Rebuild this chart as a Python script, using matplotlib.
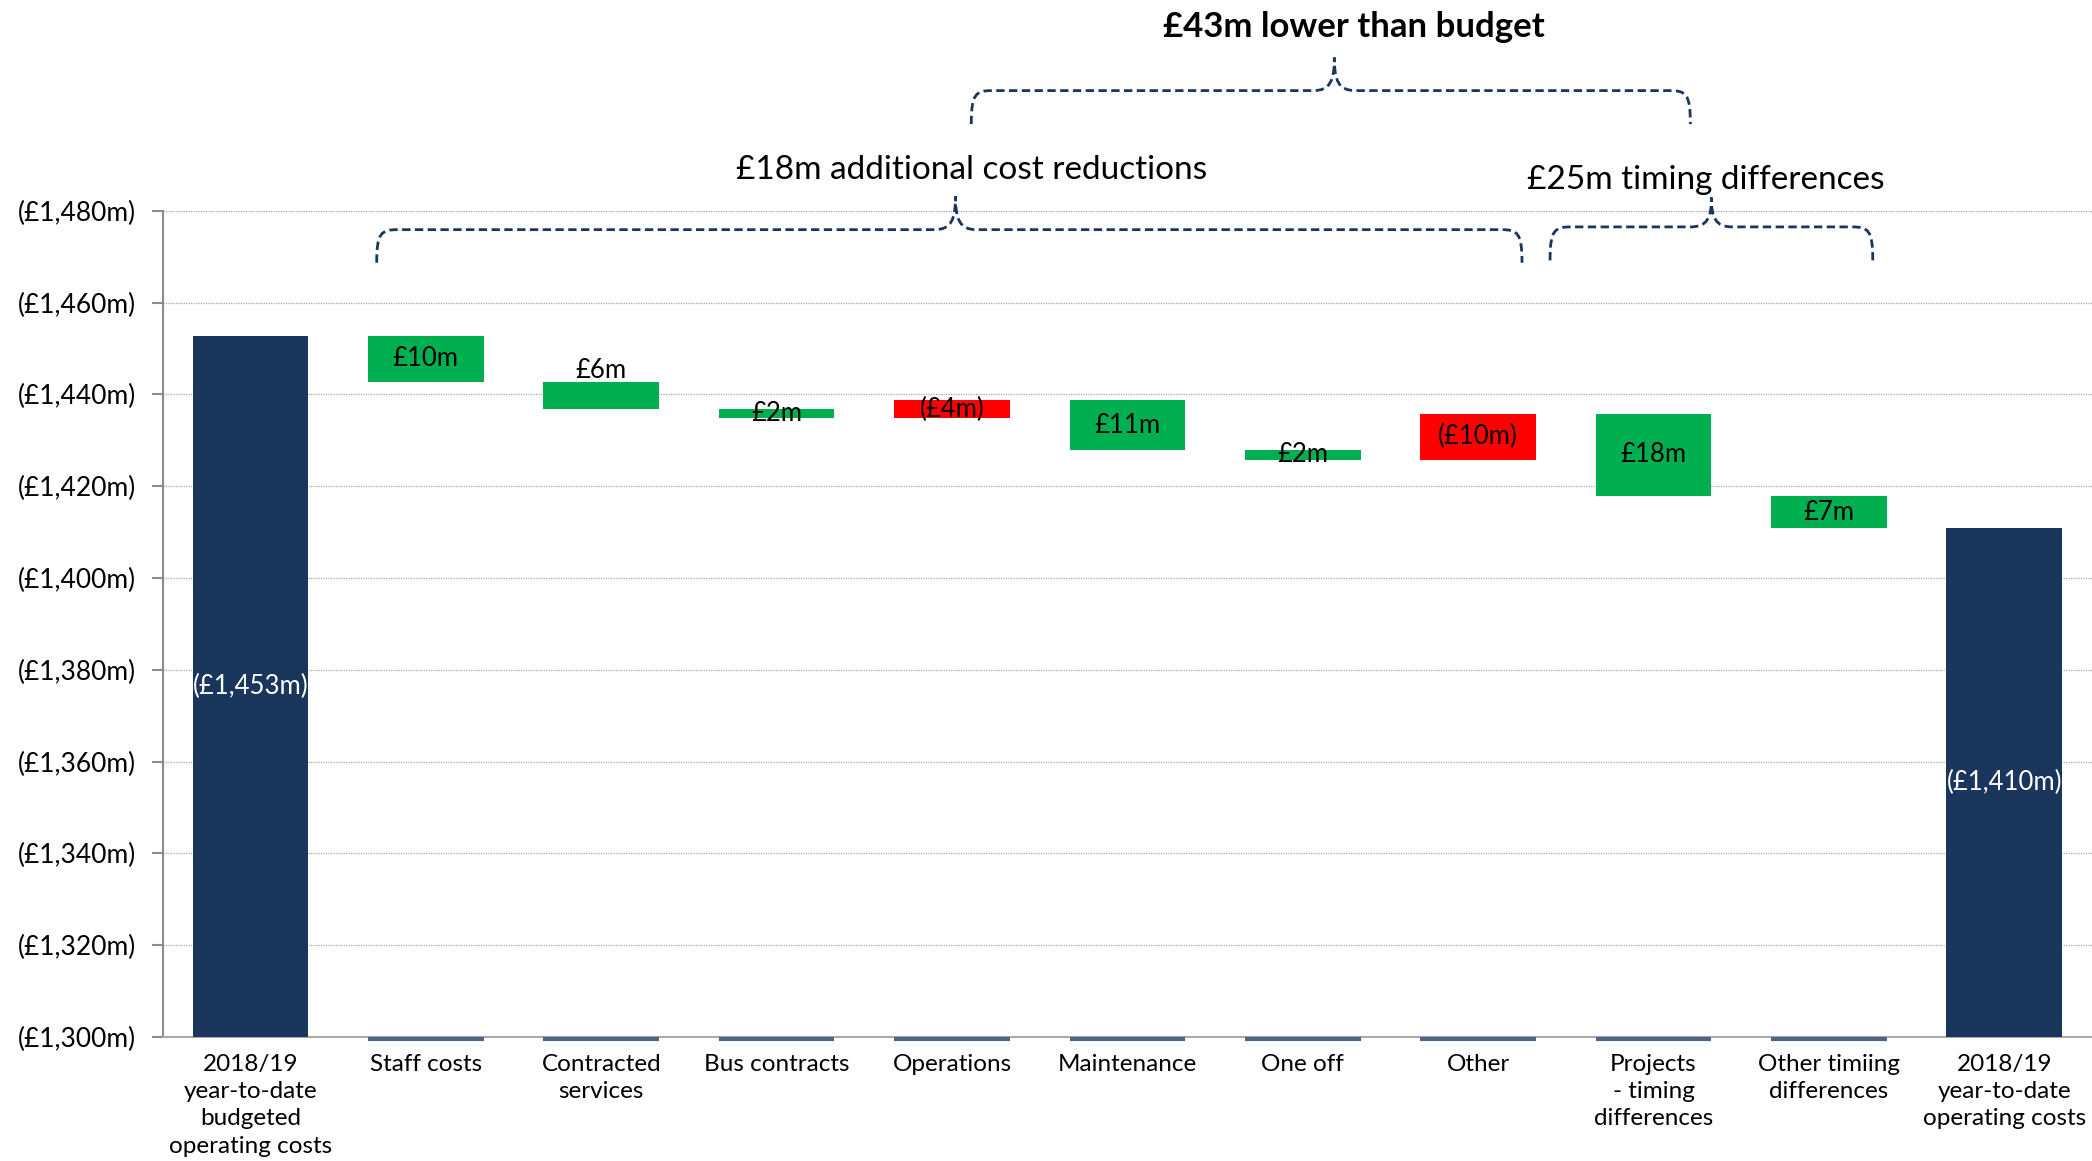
import matplotlib
matplotlib.use("Agg")
import matplotlib.pyplot as plt
from matplotlib.path import Path
from matplotlib.patches import PathPatch

# ---------------- data ----------------
categories = ["2018/19\nyear-to-date\nbudgeted\noperating costs", "Staff costs",
              "Contracted\nservices", "Bus contracts", "Operations", "Maintenance",
              "One off", "Other", "Projects\n- timing\ndifferences",
              "Other timiing\ndifferences", "2018/19\nyear-to-date\noperating costs"]
start_total = 1452.8
changes = [10, 6, 2, -4, 11, 2, -10, 18, 7]          # positive = cost reduction
change_labels = ["£10m", "£6m", "£2m", "(£4m)", "£11m", "£2m", "(£10m)", "£18m", "£7m"]
total_labels = ["(£1,453m)", "(£1,410m)"]
y_ticks = [1300, 1320, 1340, 1360, 1380, 1400, 1420, 1440, 1460, 1480]
y_tick_labels = ["(£1,300m)", "(£1,320m)", "(£1,340m)", "(£1,360m)", "(£1,380m)",
                 "(£1,400m)", "(£1,420m)", "(£1,440m)", "(£1,460m)", "(£1,480m)"]
brace_texts = ["£43m lower than budget", "£18m additional cost reductions",
               "£25m timing differences"]

# ---------------- style ----------------
NAVY = "#1A365D"
GREEN = "#00B050"
RED = "#FF0000"
plt.rcParams['font.family'] = ['Lato', 'DejaVu Sans']

fig = plt.figure(figsize=(20.92, 11.61), dpi=100)
ax = fig.add_axes([0.0778, 0.1069, 0.9222, 0.7115])

W = 0.66
n = len(categories)
LBL = 18.5
ax.bar(0, start_total - 1300, bottom=1300, width=W, color=NAVY, zorder=3)
level = start_total
label_offsets = {1: 18}  # points, for the Contracted services label
for i, c in enumerate(changes):
    x = i + 1
    top = level
    bot = level - c
    lo, hi = min(top, bot), max(top, bot)
    ax.bar(x, hi - lo, bottom=lo, width=W, color=GREEN if c > 0 else RED, zorder=3)
    ax.hlines(1299.6, x - W / 2, x + W / 2, color="#4F6382", lw=3, zorder=4, clip_on=False)
    ax.annotate(change_labels[i], (x, (lo + hi) / 2), xytext=(0, label_offsets.get(i, 0)),
                textcoords="offset points", ha="center", va="center", fontsize=LBL,
                color="black", zorder=5)
    level = bot
end_total = level
ax.bar(n - 1, end_total - 1300, bottom=1300, width=W, color=NAVY, zorder=3)
ax.text(0, (start_total + 1300) / 2, total_labels[0], ha="center", va="center",
        color="white", fontsize=LBL, zorder=5)
ax.text(n - 1, (end_total + 1300) / 2, total_labels[1], ha="center", va="center",
        color="white", fontsize=LBL, zorder=5)

ax.set_xlim(-0.5, n - 0.5)
ax.set_ylim(1300, 1480)
ax.set_yticks(y_ticks)
ax.set_yticklabels(y_tick_labels, fontsize=19)
ax.set_xticks(range(n))
ax.set_xticklabels(categories, fontsize=17.5, linespacing=1.38)
ax.tick_params(axis="x", length=0, pad=12)
ax.tick_params(axis="y", length=8, width=1.5, color="#8C8C8C", pad=11)
for s in ["top", "right"]:
    ax.spines[s].set_visible(False)
ax.spines["left"].set_color("#8C8C8C")
ax.spines["left"].set_linewidth(1.5)
ax.spines["bottom"].set_color("#AAAAAA")
ax.spines["bottom"].set_linewidth(1.5)
ax.grid(axis="y", color="#A6A6A6", linestyle=(0, (1, 1)), linewidth=0.9, zorder=0)
ax.set_axisbelow(True)


# ---------------- braces ----------------
def brace(x0, x1, xt, yb, yh, yt, dx=0.12):
    verts = [(x0, yb),
             (x0, yh - (yh - yb) * 0.1), (x0 + dx * 0.2, yh), (x0 + dx, yh),
             (xt - dx, yh),
             (xt - dx * 0.2, yh), (xt, yh + (yt - yh) * 0.3), (xt, yt),
             (xt, yh + (yt - yh) * 0.3), (xt + dx * 0.2, yh), (xt + dx, yh),
             (x1 - dx, yh),
             (x1 - dx * 0.2, yh), (x1, yh - (yh - yb) * 0.1), (x1, yb)]
    codes = [Path.MOVETO,
             Path.CURVE4, Path.CURVE4, Path.CURVE4,
             Path.LINETO,
             Path.CURVE4, Path.CURVE4, Path.CURVE4,
             Path.CURVE4, Path.CURVE4, Path.CURVE4,
             Path.LINETO,
             Path.CURVE4, Path.CURVE4, Path.CURVE4]
    p = PathPatch(Path(verts, codes), fill=False, edgecolor=NAVY, lw=2,
                  linestyle=(0, (3, 1.6)), clip_on=False, zorder=6)
    ax.add_patch(p)

brace(4.11, 8.21, 6.18, 1498.9, 1506.2, 1513.4)
brace(0.72, 7.25, 4.02, 1468.7, 1475.9, 1483.2)
brace(7.41, 9.25, 8.33, 1469.2, 1476.5, 1482.9)
ax.text(6.29, 1520.1, brace_texts[0], ha="center", va="center", fontsize=25,
        fontweight="bold", clip_on=False)
ax.text(4.11, 1489.0, brace_texts[1], ha="center", va="center", fontsize=24,
        clip_on=False)
ax.text(8.30, 1486.7, brace_texts[2], ha="center", va="center", fontsize=24,
        clip_on=False)

fig.savefig("out.png", dpi=100)
